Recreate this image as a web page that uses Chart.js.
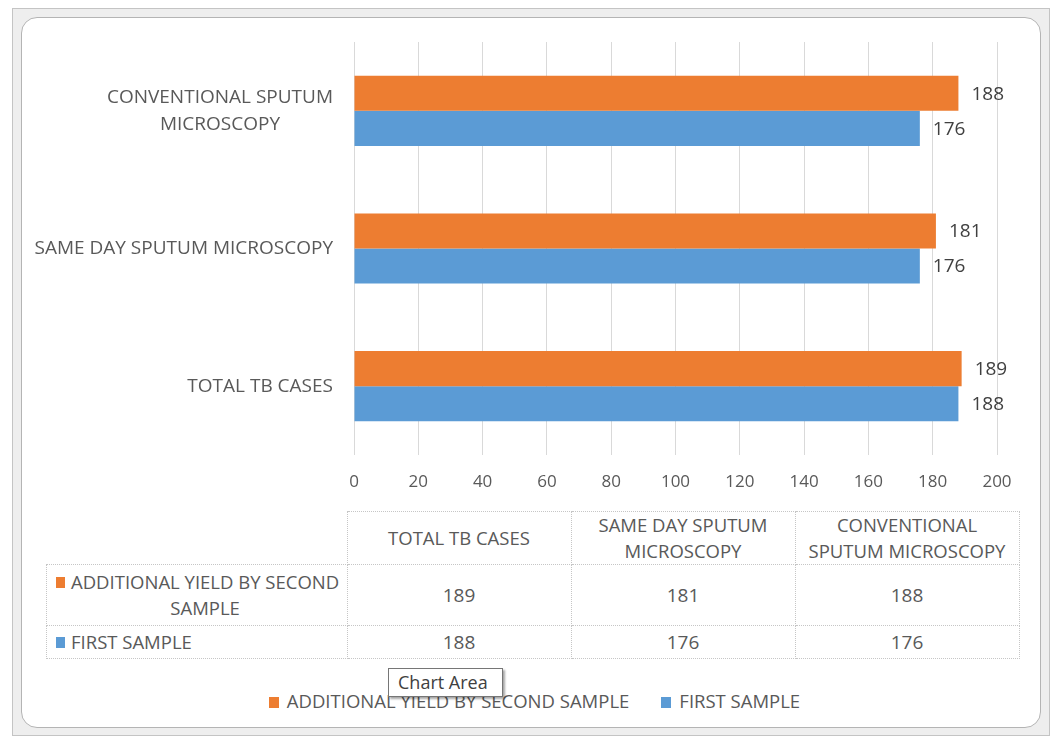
<!DOCTYPE html>
<html>
<head>
<meta charset="utf-8">
<script src="https://cdn.jsdelivr.net/npm/chart.js@4/dist/chart.umd.min.js"></script>
<style>
  html, body { margin: 0; padding: 0; background: #fff; }
  body { width: 1056px; height: 742px; position: relative; overflow: hidden; font-family: 'Open Sans', sans-serif; color: #595959; }
  #frame { position: absolute; left: 12px; top: 8px; width: 1036px; height: 726px; background: #eeeeee; border: 1px solid #c4c4c4; }
  #inner { position: absolute; left: 21px; top: 17px; width: 1018px; height: 709px; background: #fff; border: 1px solid #b4b4b4; border-radius: 16px; }
  #chartBox { position: absolute; left: 22px; top: 18px; width: 1018px; height: 482px; }
  #dataTable { position: absolute; left: 46px; top: 511px; border-collapse: collapse; font-size: 18.5px; color: #595959; table-layout: fixed; }
  #dataTable td { border: 1px dotted #c6c6c6; text-align: center; padding: 0; line-height: 26px; }
  #dataTable td.blank { border-top: none; border-left: none; }
  #dataTable td.rowHead { text-align: left; padding-left: 9px; white-space: nowrap; font-size: 18.5px; }
  .rowText { display: inline-block; text-align: center; vertical-align: top; }
  .sw { display: inline-block; width: 9px; height: 11px; margin-right: 6px; vertical-align: top; margin-top: 8px; }
  #legend { position: absolute; left: 0; top: 688px; width: 1069px; text-align: center; font-size: 18.5px; color: #595959; white-space: nowrap; }
  #legend span.item { margin: 0 16px; }
  #legend .sw { width: 10px; height: 11px; vertical-align: 0; margin-top: 0; margin-right: 8px; }
  #tip { position: absolute; left: 388px; top: 668px; width: 113px; height: 27px; background: #fff; border: 1px solid #767676; box-shadow: 2px 2px 2px rgba(0,0,0,0.35); font-size: 18px; color: #404040; line-height: 27px; text-indent: 9px; z-index: 2; white-space: nowrap; }
</style>
</head>
<body>
<div id="frame"></div>
<div id="inner"></div>
<div id="chartBox"><canvas id="chart" width="1018" height="482"></canvas></div>
<table id="dataTable"></table>
<div id="legend"></div>
<div id="tip">Chart Area</div>
<script>
// categories in table order (bottom to top on the chart)
const categories = ['TOTAL TB CASES', 'SAME DAY SPUTUM MICROSCOPY', 'CONVENTIONAL SPUTUM MICROSCOPY'];
const axisLabels = [['TOTAL TB CASES'], ['SAME DAY SPUTUM MICROSCOPY'], ['CONVENTIONAL SPUTUM', 'MICROSCOPY']];
const tableHeads = [['TOTAL TB CASES'], ['SAME DAY SPUTUM', 'MICROSCOPY'], ['CONVENTIONAL', 'SPUTUM MICROSCOPY']];
const seriesNames = ['ADDITIONAL YIELD BY SECOND SAMPLE', 'FIRST SAMPLE'];
const tableRowNames = [['ADDITIONAL YIELD BY SECOND', 'SAMPLE'], ['FIRST SAMPLE']];
const additionalYield = [189, 181, 188];
const firstSample = [188, 176, 176];
const xTicks = [0, 20, 40, 60, 80, 100, 120, 140, 160, 180, 200];
const colors = ['#ED7D31', '#5B9BD5'];

const textColor = '#595959';
const fontFamily = "'Open Sans', sans-serif";

// 1. Data table under the chart
const table = document.getElementById('dataTable');
let html = '<tr style="height:53px"><td class="blank" style="width:300px"></td>';
tableHeads.forEach(h => { html += '<td style="width:223px">' + h.join('<br>') + '</td>'; });
html += '</tr>';
[additionalYield, firstSample].forEach((vals, i) => {
    html += '<tr style="height:' + (i === 0 ? 61 : 33) + 'px"><td class="rowHead"><span class="sw" style="background:' + colors[i] + '"></span>' +
        '<span class="rowText">' + tableRowNames[i].join('<br>') + '</span></td>';
    vals.forEach(v => { html += '<td style="font-size:19px">' + v + '</td>'; });
    html += '</tr>';
});
table.innerHTML = html;

// 2. Legend
document.getElementById('legend').innerHTML = seriesNames.map((n, i) =>
    '<span class="item"><span class="sw" style="background:' + colors[i] + '"></span>' + n + '</span>').join('');

// 3. Plugins: wrapped category labels and value labels
const categoryLabels = {
    id: 'categoryLabels',
    afterDraw(chart) {
        const ctx = chart.ctx;
        const yScale = chart.scales.y;
        const right = chart.chartArea.left - 21;
        ctx.save();
        ctx.font = '19px ' + fontFamily;
        ctx.fillStyle = textColor;
        ctx.textAlign = 'center';
        ctx.textBaseline = 'middle';
        axisLabels.forEach((lines, i) => {
            const w = Math.max(...lines.map(l => ctx.measureText(l).width));
            const cx = right - w / 2;
            const cy = yScale.getPixelForTick(i);
            const lh = 27;
            lines.forEach((l, j) => {
                ctx.fillText(l, cx, cy + (j - (lines.length - 1) / 2) * lh);
            });
        });
        ctx.restore();
    }
};

const valueLabels = {
    id: 'valueLabels',
    afterDatasetsDraw(chart) {
        const ctx = chart.ctx;
        ctx.save();
        ctx.font = '19px ' + fontFamily;
        ctx.fillStyle = '#404040';
        ctx.textAlign = 'left';
        ctx.textBaseline = 'middle';
        chart.data.datasets.forEach((ds, di) => {
            chart.getDatasetMeta(di).data.forEach((bar, i) => {
                ctx.fillText(ds.data[i], bar.x + 13, bar.y + 1);
            });
        });
        ctx.restore();
    }
};

// 4. The horizontal bar chart
new Chart(document.getElementById('chart'), {
    type: 'bar',
    data: {
        labels: categories,
        datasets: [
            { label: seriesNames[0], data: additionalYield, backgroundColor: colors[0] },
            { label: seriesNames[1], data: firstSample, backgroundColor: colors[1] }
        ]
    },
    options: {
        indexAxis: 'y',
        responsive: false,
        animation: false,
        layout: { padding: { top: 24, right: 43, left: 0, bottom: 0 } },
        categoryPercentage: 0.51,
        barPercentage: 1.0,
        scales: {
            x: {
                min: 0,
                max: 200,
                afterBuildTicks(axis) { axis.ticks = xTicks.map(v => ({ value: v })); },
                afterFit(axis) { axis.height = 45; },
                grid: { color: '#d9d9d9', drawTicks: false },
                border: { display: false },
                ticks: { color: textColor, padding: 17, font: { family: fontFamily, size: 17 } }
            },
            y: {
                reverse: true,
                afterFit(axis) { axis.width = 332; },
                grid: { display: false },
                border: { display: false },
                ticks: { display: false }
            }
        },
        plugins: {
            legend: { display: false },
            tooltip: { enabled: false }
        }
    },
    plugins: [categoryLabels, valueLabels]
});
</script>
</body>
</html>
